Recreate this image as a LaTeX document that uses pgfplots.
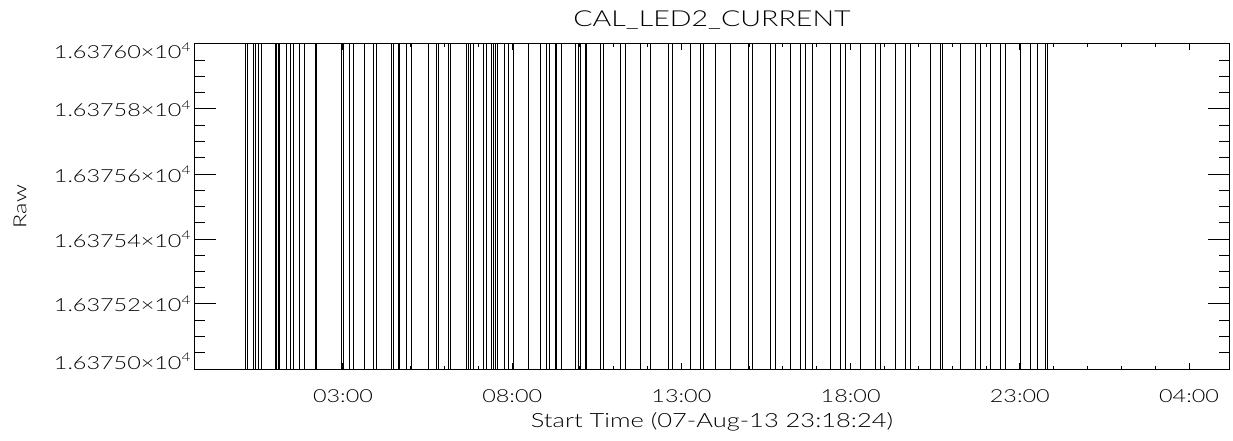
\documentclass[border=0pt]{standalone}
\usepackage{pgfplots}
\pgfplotsset{compat=1.18}
\usepackage{fontspec}
\setmainfont{Lato}[UprightFont={* Light}, FakeStretch=1.3]
\newcommand{\yl}[2]{\raisebox{#1}[\height][\depth]{#2}}
\begin{document}
\begin{tikzpicture}
\path[use as bounding box] (-97.5pt,-35.5pt) rectangle (519pt,184.5pt);
\pgfplotsset{common/.style={
  at={(0,0)}, anchor=south west, scale only axis,
  width=517pt, height=162.5pt,
  xmin=22.627, xmax=53.18, ymin=16375, ymax=16376,
  axis line style={line width=0.5pt},
  every tick/.style={black, line width=0.5pt},
  tick align=inside,
  font=\fontsize{9}{10}\selectfont,
}}
\begin{axis}[common,
  xtick=\empty,
  ytick={16375,16375.2,16375.4,16375.6,16375.8,16376},
  yticklabels={\yl{3.7pt}{1.63750×10\textsuperscript{4}},1.63752×10\textsuperscript{4},1.63754×10\textsuperscript{4},1.63756×10\textsuperscript{4},1.63758×10\textsuperscript{4},\yl{-3.5pt}{1.63760×10\textsuperscript{4}}},
  scaled y ticks=false,
  minor y tick num=3,
  major tick length=10.5pt, minor tick length=5pt,
  yticklabel style={inner sep=0pt, anchor=east, xshift=-1.5pt},
  ylabel={Raw},
  ylabel style={at={(axis description cs:-0.1692,0.5)}, anchor=center, inner sep=0pt},
  every axis title shift=0pt,
  title={CAL\_LED2\_CURRENT},
  title style={at={(axis description cs:0.5,1.0738)}, anchor=center, inner sep=0pt, font=\fontsize{11}{12}\selectfont},
]
\addplot[const plot, black, line width=0.5pt] table {
x y
23.307 16375
24.125 16376
24.184 16375
24.370 16376
24.429 16375
24.497 16376
24.598 16375
24.991 16376
25.041 16375
25.088 16376
25.138 16375
25.336 16376
25.463 16375
25.531 16376
25.709 16375
25.877 16376
26.173 16375
26.223 16376
26.962 16375
27.009 16376
27.207 16375
27.304 16376
27.650 16375
27.916 16376
27.996 16375
28.439 16376
28.486 16375
28.634 16376
28.684 16375
28.882 16376
29.030 16375
29.521 16376
29.769 16375
29.816 16376
30.112 16375
30.162 16376
30.655 16375
30.703 16376
30.753 16375
30.850 16376
31.146 16375
31.226 16376
31.394 16375
31.441 16376
31.521 16375
31.560 16376
31.787 16375
31.885 16376
32.032 16375
32.476 16376
32.822 16375
33.019 16376
33.096 16375
33.265 16376
33.315 16375
33.463 16376
33.856 16375
33.953 16376
34.004 16375
34.151 16376
34.201 16375
34.595 16376
34.683 16375
35.186 16376
35.333 16375
35.777 16376
36.073 16375
36.605 16376
36.723 16375
37.255 16376
37.551 16375
37.640 16376
37.995 16375
38.440 16376
38.968 16375
39.086 16376
39.618 16375
39.766 16376
40.210 16375
40.505 16376
40.653 16375
40.860 16376
41.391 16375
41.687 16376
41.835 16375
42.278 16376
42.721 16375
42.869 16376
43.312 16375
43.608 16376
43.756 16375
44.346 16376
44.642 16375
44.701 16376
45.233 16375
45.676 16376
45.824 16375
46.119 16376
46.414 16375
46.563 16376
47.006 16375
47.301 16376
47.508 16375
47.745 16376
47.804 16375
52.600 16375
};
\end{axis}
\begin{axis}[common,
  ytick=\empty,
  xtick={27,32,37,42,47,52},
  xticklabels={03:00,08:00,13:00,18:00,23:00,04:00},
  minor x tick num=4,
  major tick length=3.25pt, minor tick length=1.6pt,
  xticklabel style={inner sep=0pt, anchor=north, yshift=-10pt},
  xlabel={Start Time (07-Aug-13 23:18:24)},
  xlabel style={at={(axis description cs:0.5,-0.163)}, anchor=center, inner sep=0pt, font=\fontsize{9.8}{11}\selectfont},
]
\end{axis}
\end{tikzpicture}
\end{document}
